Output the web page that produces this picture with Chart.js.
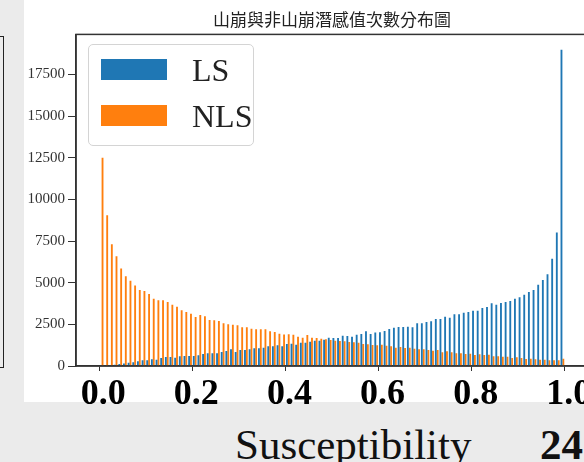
<!DOCTYPE html>
<html>
<head>
<meta charset="utf-8">
<script src="https://cdn.jsdelivr.net/npm/chart.js@4/dist/chart.umd.min.js"></script>
<style>
  html, body { margin: 0; padding: 0; }
  body { width: 584px; height: 462px; overflow: hidden; position: relative; background: #ebebeb; font-family: "Liberation Serif", serif; }
  #panel { position: absolute; left: 24px; top: 0; width: 600px; height: 402px; background: #fff; }
  #prev { position: absolute; left: -10px; top: 36px; width: 12px; height: 330px; border: 1px solid #222; }
  #wrap { position: absolute; left: 0; top: 0; width: 600px; height: 410px; }
  #legend { position: absolute; left: 88px; top: 44px; width: 164px; height: 100px; border: 1.5px solid #d4d4d4; border-radius: 5px; background: #fff; }
  .patch { position: absolute; left: 12px; width: 66px; height: 21px; }
  .name { position: absolute; left: 103px; font-size: 32px; line-height: 32px; color: #222; }
  #xlabel { position: absolute; left: 235px; top: 423px; font-size: 43px; line-height: 43px; color: #111; }
  #page { position: absolute; left: 540px; top: 423px; font-size: 43px; line-height: 43px; font-weight: bold; color: #111; }
</style>
</head>
<body>
<div id="panel"></div>
<div id="prev"></div>
<div id="wrap"><canvas id="chart" width="600" height="410"></canvas></div>
<div id="legend"></div>
<div id="xlabel">Susceptibility</div>
<div id="page">24</div>
<script>
// histogram bins: 100 bins of width 0.01 on [0, 1], bars placed at bin centres
const binCentres = Array.from({ length: 100 }, (_, i) => +(i / 100 + 0.005).toFixed(3))

// landslide (LS) counts per bin
const lsCounts = [
  20, 30, 50, 80, 120, 150, 200, 220, 280, 340,
  340, 400, 380, 480, 540, 540, 500, 580, 600, 600,
  600, 640, 720, 760, 760, 760, 840, 900, 1000, 840,
  960, 960, 1000, 1060, 1060, 1100, 1180, 1180, 1240, 1180,
  1320, 1340, 1280, 1400, 1400, 1460, 1520, 1520, 1580, 1700,
  1680, 1680, 1820, 1800, 1760, 1880, 1920, 2080, 1920, 2010,
  2020, 2100, 2220, 2300, 2340, 2340, 2360, 2320, 2560, 2560,
  2640, 2680, 2820, 2820, 2960, 2900, 3100, 3100, 3200, 3240,
  3320, 3320, 3480, 3540, 3760, 3680, 3780, 3840, 3900, 4040,
  4120, 4280, 4440, 4560, 4880, 5160, 5500, 6440, 8010, 18980
]

// non-landslide (NLS) counts per bin
const nlsCounts = [
  12500, 9050, 7310, 6590, 5850, 5390, 5110, 4830, 4560, 4500,
  4320, 4040, 3940, 3940, 3840, 3680, 3560, 3340, 3240, 3140,
  2940, 3060, 2980, 2760, 2740, 2700, 2560, 2500, 2480, 2440,
  2320, 2320, 2240, 2200, 2200, 2200, 2080, 2040, 1940, 1890,
  1900, 1880, 1760, 1700, 1860, 1700, 1680, 1640, 1600, 1560,
  1520, 1500, 1480, 1440, 1420, 1400, 1320, 1300, 1260, 1250,
  1280, 1220, 1180, 1100, 1140, 1080, 1100, 1040, 1000, 1000,
  960, 920, 960, 820, 880, 820, 760, 760, 720, 740,
  660, 700, 660, 680, 580, 580, 560, 560, 480, 520,
  480, 420, 440, 400, 380, 380, 340, 340, 340, 440
]

const seriesNames = ['LS', 'NLS']
const seriesColors = ['#1f77b4', '#ff7f0e']
const xTicks = [0, 0.2, 0.4, 0.6, 0.8, 1.0]
const yTicks = [0, 2500, 5000, 7500, 10000, 12500, 15000, 17500]
const chartTitle = '山崩與非山崩潛感值次數分布圖'

const frame = {
    id: 'frame',
    afterDraw(chart) {
        const { ctx, chartArea: a } = chart
        ctx.save()
        ctx.strokeStyle = '#333'
        ctx.lineWidth = 1.5
        ctx.strokeRect(a.left, a.top, a.right - a.left, a.bottom - a.top)
        ctx.restore()
    }
}

const chart = new Chart('chart', {
    type: 'bar',
    data: {
        datasets: [lsCounts, nlsCounts].map((counts, i) => ({
            label: seriesNames[i],
            data: binCentres.map((x, j) => ({ x, y: counts[j] })),
            backgroundColor: seriesColors[i],
            categoryPercentage: 0.8,
            barPercentage: 1
        }))
    },
    options: {
        responsive: false,
        animation: false,
        layout: { padding: { right: 12 } },
        plugins: {
            legend: { display: false },
            tooltip: { enabled: false },
            title: {
                display: true,
                fullSize: false,
                text: chartTitle,
                color: '#222',
                font: { family: 'Noto Sans CJK TC', size: 17, weight: 'normal' },
                padding: { top: 9, bottom: 5 }
            }
        },
        scales: {
            x: {
                type: 'linear',
                offset: false,
                min: -0.05,
                max: 1.05,
                afterBuildTicks: s => { s.ticks = xTicks.map(value => ({ value })) },
                afterFit: s => { s.height = 44 },
                grid: { drawOnChartArea: false, offset: false, tickLength: 5, color: '#333' },
                border: { color: '#333', width: 1.5 },
                ticks: {
                    autoSkip: false,
                    maxRotation: 0,
                    padding: 2,
                    labelOffset: 4,
                    color: '#000',
                    font: { family: 'Liberation Serif', size: 36, weight: 'bold' },
                    callback: v => Number(v).toFixed(1)
                }
            },
            y: {
                min: 0,
                max: 19900,
                afterBuildTicks: s => { s.ticks = yTicks.map(value => ({ value })) },
                afterFit: s => { s.width = 76 },
                grid: { drawOnChartArea: false, tickLength: 8, color: '#333' },
                border: { color: '#333', width: 1.5 },
                ticks: {
                    padding: 3,
                    color: '#333',
                    font: { family: 'Liberation Serif', size: 15 },
                    callback: v => String(v)
                }
            }
        }
    },
    plugins: [frame]
})

// legend box drawn in html from the chart's datasets
const legend = document.getElementById('legend')
chart.data.datasets.forEach((ds, i) => {
    const patch = document.createElement('div')
    patch.className = 'patch'
    patch.style.top = (14 + i * 46) + 'px'
    patch.style.background = ds.backgroundColor
    const name = document.createElement('div')
    name.className = 'name'
    name.style.top = (9 + i * 46) + 'px'
    name.textContent = ds.label
    legend.appendChild(patch)
    legend.appendChild(name)
})
</script>
</body>
</html>
